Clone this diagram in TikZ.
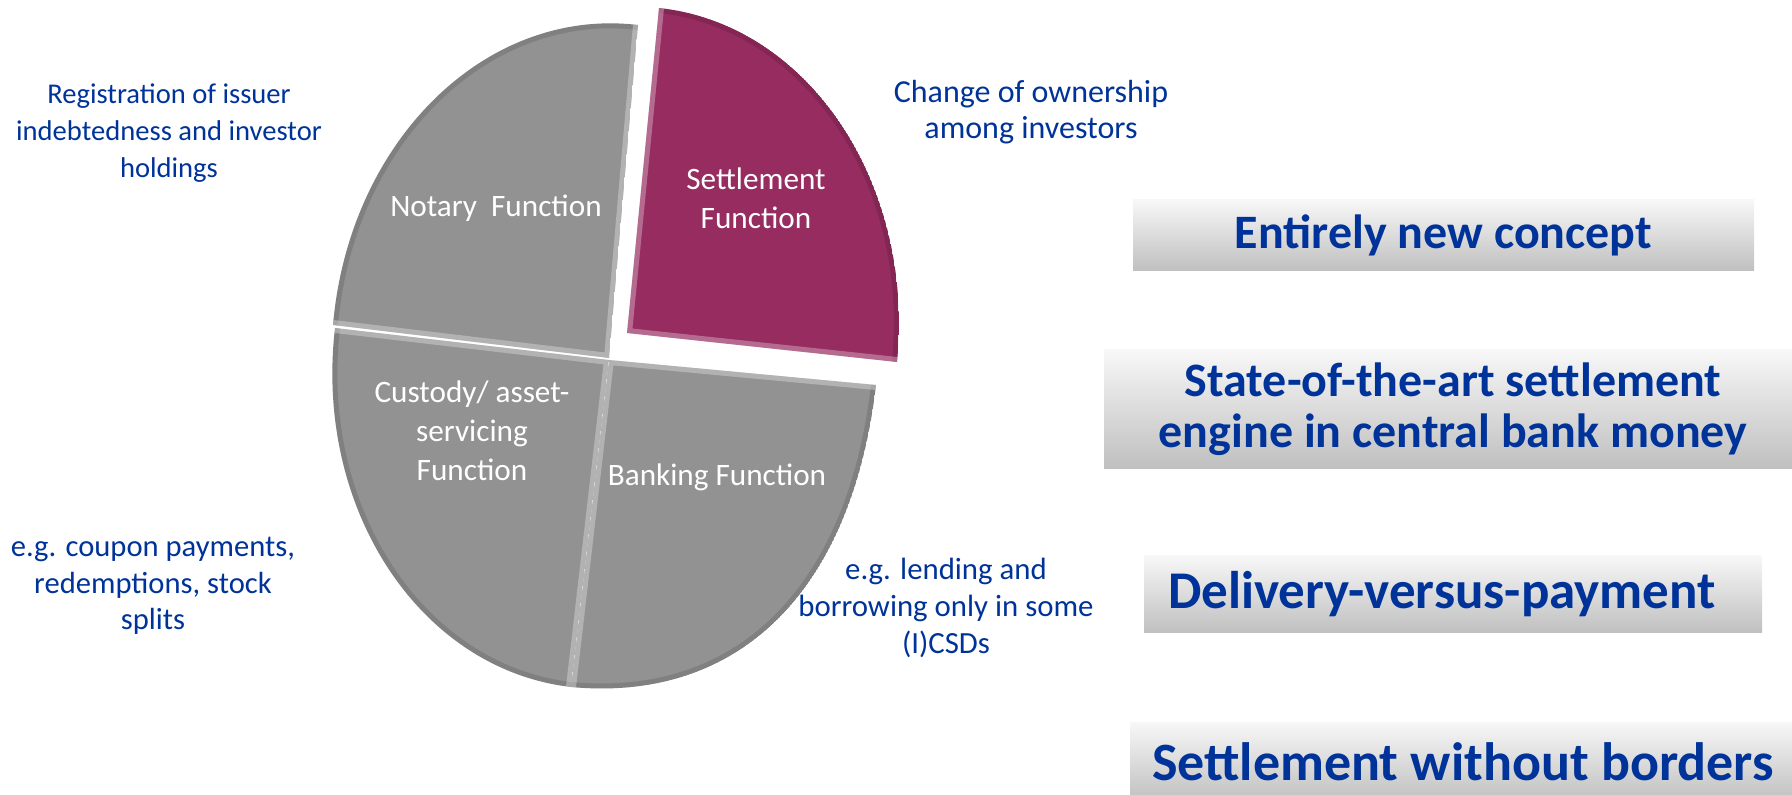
\documentclass[tikz,border=0pt]{standalone}
\usepackage{fontspec}
\setmainfont{Carlito}
\usepackage{tikz}
\usetikzlibrary{calc}
\definecolor{ecbblue}{RGB}{0,51,153}
\definecolor{settleplum}{RGB}{150,44,96}
\definecolor{slicegrey}{RGB}{146,146,146}
% quarter of a tilted ellipse: colour, centre, first end, second end, bulge
\newcommand{\quadslice}[5]{\begin{scope}
    \clip (#2) -- (#3) .. controls ($(#3)+#5*(#4)-#5*(#2)$) and ($(#4)+#5*(#3)-#5*(#2)$) .. (#4) -- cycle;
    \fill[#1] (#2) -- (#3) .. controls ($(#3)+#5*(#4)-#5*(#2)$) and ($(#4)+#5*(#3)-#5*(#2)$) .. (#4) -- cycle;
    \draw[rimdark] (#3) .. controls ($(#3)+#5*(#4)-#5*(#2)$) and ($(#4)+#5*(#3)-#5*(#2)$) .. (#4);
    \draw[rimlight] (#3) -- (#2) -- (#4);
  \end{scope}}
\newcommand{\notesize}[1]{\fontsize{#1}{18.3}\selectfont}
\newcommand{\panelsize}[1]{\fontsize{#1}{25.5}\selectfont\bfseries}

\begin{document}
\begin{tikzpicture}[x=0.5pt, y=-0.5pt,
    note/.style={text=ecbblue, align=center, inner sep=0pt, font=\notesize{14.3}},
    slicelabel/.style={text=white, align=center, inner sep=0pt, font=\fontsize{15.6}{19.5}\selectfont},
    panel/.style={top color=black!3, bottom color=black!25, text=ecbblue, align=center, inner sep=0pt, font=\panelsize{24}},
    rimdark/.style={draw=black, draw opacity=0.12, line width=5pt},
    rimlight/.style={draw=white, draw opacity=0.3, line width=5pt}]
    \useasboundingbox (0,0) rectangle (1792,795);
    % pie
    \quadslice{slicegrey}{609,358}{333,325}{638,25}{0.5523}
    \quadslice{settleplum}{627,333}{659,8}{897,362}{0.5523}
    \quadslice{slicegrey}{609,360}{335,328}{571,687}{0.5523}
    \quadslice{slicegrey}{609,360}{876,385}{571,687}{0.63}
    % slice labels
    \node[slicelabel] (notary) at (496,208) {Notary\ \ Function};
    \node[slicelabel] (settle) at (756,198) {Settlement\\Function};
    \node[slicelabel] (custody) at (472,431) {Custody/ asset-\\servicing\\Function};
    \node[slicelabel] (banking) at (717,477) {Banking Function};
    % notes
    \node[note] (reg) at (169,133) {Registration of issuer\\indebtedness and investor\\holdings};
    \node[note, font=\notesize{16}] (change) at (1031,112) {Change of ownership\\among investors};
    \node[note, font=\notesize{15.3}] (coupon) at (153,586) {e.g. coupon payments,\\redemptions, stock\\splits};
    \node[note, font=\notesize{15.4}] (lending) at (946,608) {e.g. lending and\\borrowing only in some\\(I)CSDs};
    % panels
    \node[panel, minimum width=310.5pt, minimum height=35.5pt] (newconcept) at (1443.5,235.5) {Entirely new concept};
    \node[panel, minimum width=349pt, minimum height=59.5pt] (engine) at (1453,409.5) {State-of-the-art settlement\\engine in central bank money};
    \node[panel, font=\panelsize{26.5}, minimum width=309pt, minimum height=38.5pt] (dvp) at (1453,594.5) {Delivery-versus-payment\hspace*{11pt}};
    \node[panel, font=\panelsize{27}, minimum width=333pt, minimum height=40pt] (borders) at (1463,762) {Settlement without borders};
\end{tikzpicture}
\end{document}
